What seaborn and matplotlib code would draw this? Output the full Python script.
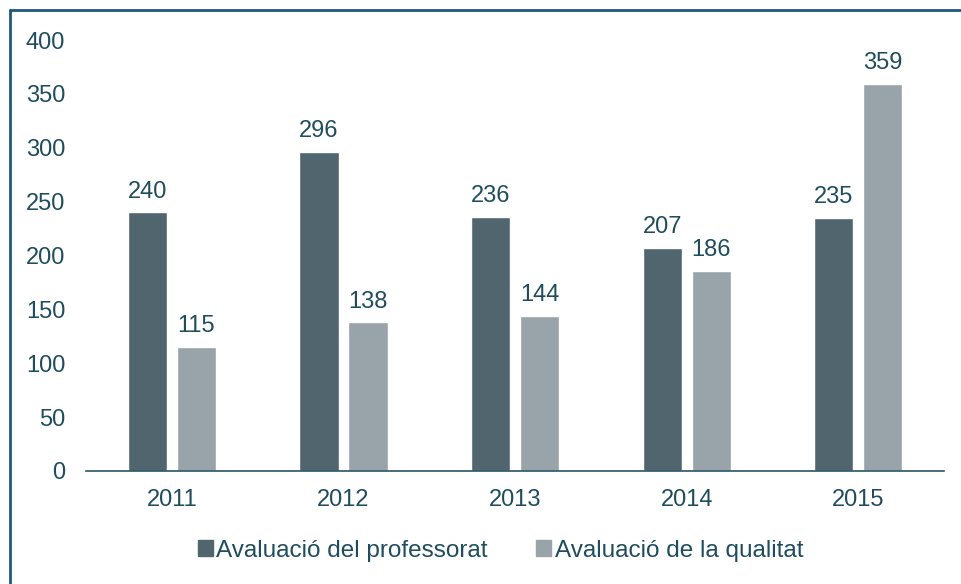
import matplotlib
matplotlib.use("Agg")
import matplotlib.pyplot as plt
import seaborn as sns
import pandas as pd
from matplotlib.lines import Line2D

years = ["2011", "2012", "2013", "2014", "2015"]
professorat = [240, 296, 236, 207, 235]
qualitat = [115, 138, 144, 186, 359]
series_names = ["Avaluació del professorat", "Avaluació de la qualitat"]
y_ticks = [0, 50, 100, 150, 200, 250, 300, 350, 400]

text_color = "#1f4d5d"
colors = ["#51656f", "#98a4a9"]

df = pd.DataFrame({
    "year": years * 2,
    "value": professorat + qualitat,
    "series": [series_names[0]] * len(years) + [series_names[1]] * len(years),
})

sns.set_style("white")
plt.rcParams["font.family"] = ["Liberation Sans", "DejaVu Sans"]

fig = plt.figure(figsize=(9.61, 5.84), dpi=100)
ax = fig.add_axes([0.0895, 0.1935, 0.893, 0.738])

sns.barplot(data=df, x="year", y="value", hue="series", palette=colors,
            width=0.571, gap=0.2, ax=ax, saturation=1, legend=False)

for cont in ax.containers:
    ax.bar_label(cont, padding=7, fontsize=17, color=text_color)

ax.set_ylim(0, 400)
ax.set_yticks(y_ticks)
ax.set_xlim(-0.5, 4.5)
ax.set_xlabel("")
ax.set_ylabel("")
ax.tick_params(axis="both", length=0, labelsize=17, labelcolor=text_color)
ax.tick_params(axis="x", pad=13)
ax.tick_params(axis="y", pad=15)
for s in ["left", "right", "top"]:
    ax.spines[s].set_visible(False)
ax.spines["bottom"].set_color("#2b5566")
ax.spines["bottom"].set_linewidth(1.2)

handles = [plt.Rectangle((0, 0), 1, 1, color=c) for c in colors]
fig.legend(handles, series_names, loc="center", bbox_to_anchor=(0.521, 0.057),
           ncol=2, frameon=False, fontsize=17.5, labelcolor=text_color,
           handlelength=0.6, handleheight=0.6, handletextpad=0.15,
           columnspacing=2.0)

# outer frame (left and top edges only are visible)
fig.add_artist(Line2D([0.0099, 0.0099], [0, 1 - 9.5 / 584], color="#1d5a7a",
                      lw=2, transform=fig.transFigure))
fig.add_artist(Line2D([0.0099, 1], [1 - 9.5 / 584, 1 - 9.5 / 584], color="#1d5a7a",
                      lw=2, transform=fig.transFigure))

fig.savefig("out.png", dpi=100)
